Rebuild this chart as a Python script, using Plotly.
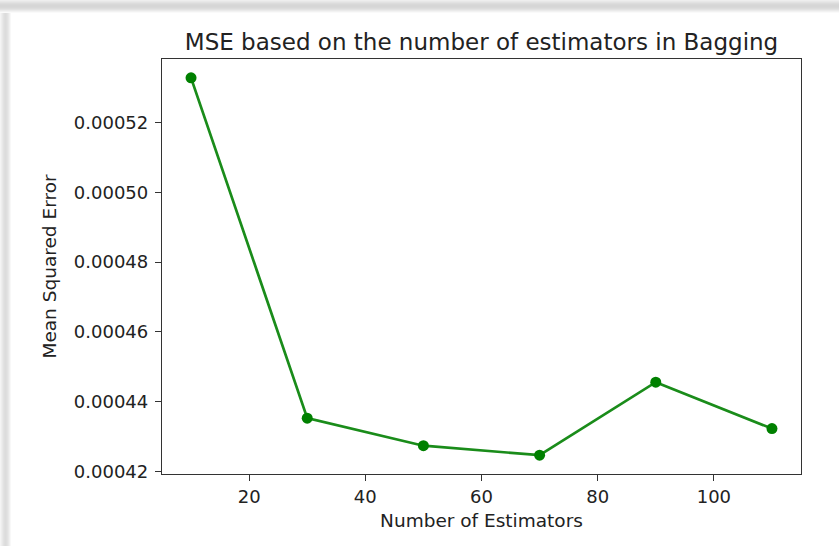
import plotly.graph_objects as go

# Data
n_estimators = [10, 30, 50, 70, 90, 110]
mse_values = [0.0005328, 0.0004353, 0.0004274, 0.0004247, 0.0004456, 0.0004323]
x_ticks = [20, 40, 60, 80, 100]
y_ticks = [0.00042, 0.00044, 0.00046, 0.00048, 0.00050, 0.00052]
y_tick_text = ["0.00042", "0.00044", "0.00046", "0.00048", "0.00050", "0.00052"]

W, H = 839, 546
L, R, T, B = 162, 38, 59, 72
pw, ph = W - L - R, H - T - B

FONT = "DejaVu Sans"

fig = go.Figure()
fig.add_trace(go.Scatter(
    x=n_estimators, y=mse_values, mode="lines+markers",
    line=dict(color="#1a8c1a", width=2.7),
    marker=dict(color="#008000", size=11),
    showlegend=False,
))

# matplotlib-like 5% margins
xmin, xmax = min(n_estimators), max(n_estimators)
ymin, ymax = min(mse_values), max(mse_values)
xr = [xmin - 0.05 * (xmax - xmin), xmax + 0.05 * (xmax - xmin)]
yr = [ymin - 0.05 * (ymax - ymin), ymax + 0.05 * (ymax - ymin)]

axis_common = dict(
    showgrid=False, zeroline=False, showline=True, linecolor="#333333", linewidth=1.3,
    mirror=True, ticks="outside", ticklen=6, tickwidth=1.2, tickcolor="#333333",
    tickfont=dict(family=FONT, size=18, color="#222222"),
)

fig.update_layout(
    width=W, height=H,
    margin=dict(l=L, r=R, t=T, b=B),
    paper_bgcolor="white", plot_bgcolor="white",
    title=dict(text="MSE based on the number of estimators in Bagging",
               font=dict(family=FONT, size=23, color="#222222"),
               x=0.5, xref="paper", xanchor="center",
               y=1 - 42 / H, yref="container", yanchor="middle"),
    xaxis=dict(range=xr, tickvals=x_ticks,
               title=dict(text="Number of Estimators", font=dict(family=FONT, size=18.5, color="#222222"), standoff=8),
               **axis_common),
    yaxis=dict(range=yr, tickvals=y_ticks, ticktext=y_tick_text, ticklabelstandoff=3,
               title=dict(text="Mean Squared Error", font=dict(family=FONT, size=18.5, color="#222222"), standoff=12),
               **axis_common),
)

# screenshot drop-shadow frame (top and left)
def px_to_paper_x(px):
    return (px - L) / pw

def px_to_paper_y(py):
    return 1 - (py - T) / ph

top_profile = [238, 232, 226, 220, 216, 214, 214, 216, 220, 226, 234, 242, 250]
left_profile = [244, 238, 232, 226, 222, 220, 222, 226, 232, 240, 248]
shapes = []
for i, g in enumerate(top_profile):
    shapes.append(dict(type="rect", xref="paper", yref="paper", layer="above",
                       x0=px_to_paper_x(0), x1=px_to_paper_x(W),
                       y0=px_to_paper_y(i + 1), y1=px_to_paper_y(i),
                       line=dict(width=0), fillcolor=f"rgb({g},{g},{g})"))
for i, g in enumerate(left_profile):
    shapes.append(dict(type="rect", xref="paper", yref="paper", layer="above",
                       x0=px_to_paper_x(i), x1=px_to_paper_x(i + 1),
                       y0=px_to_paper_y(H), y1=px_to_paper_y(len(top_profile)),
                       line=dict(width=0), fillcolor=f"rgb({g},{g},{g})"))
fig.update_layout(shapes=shapes)

fig.write_html("out.html")
